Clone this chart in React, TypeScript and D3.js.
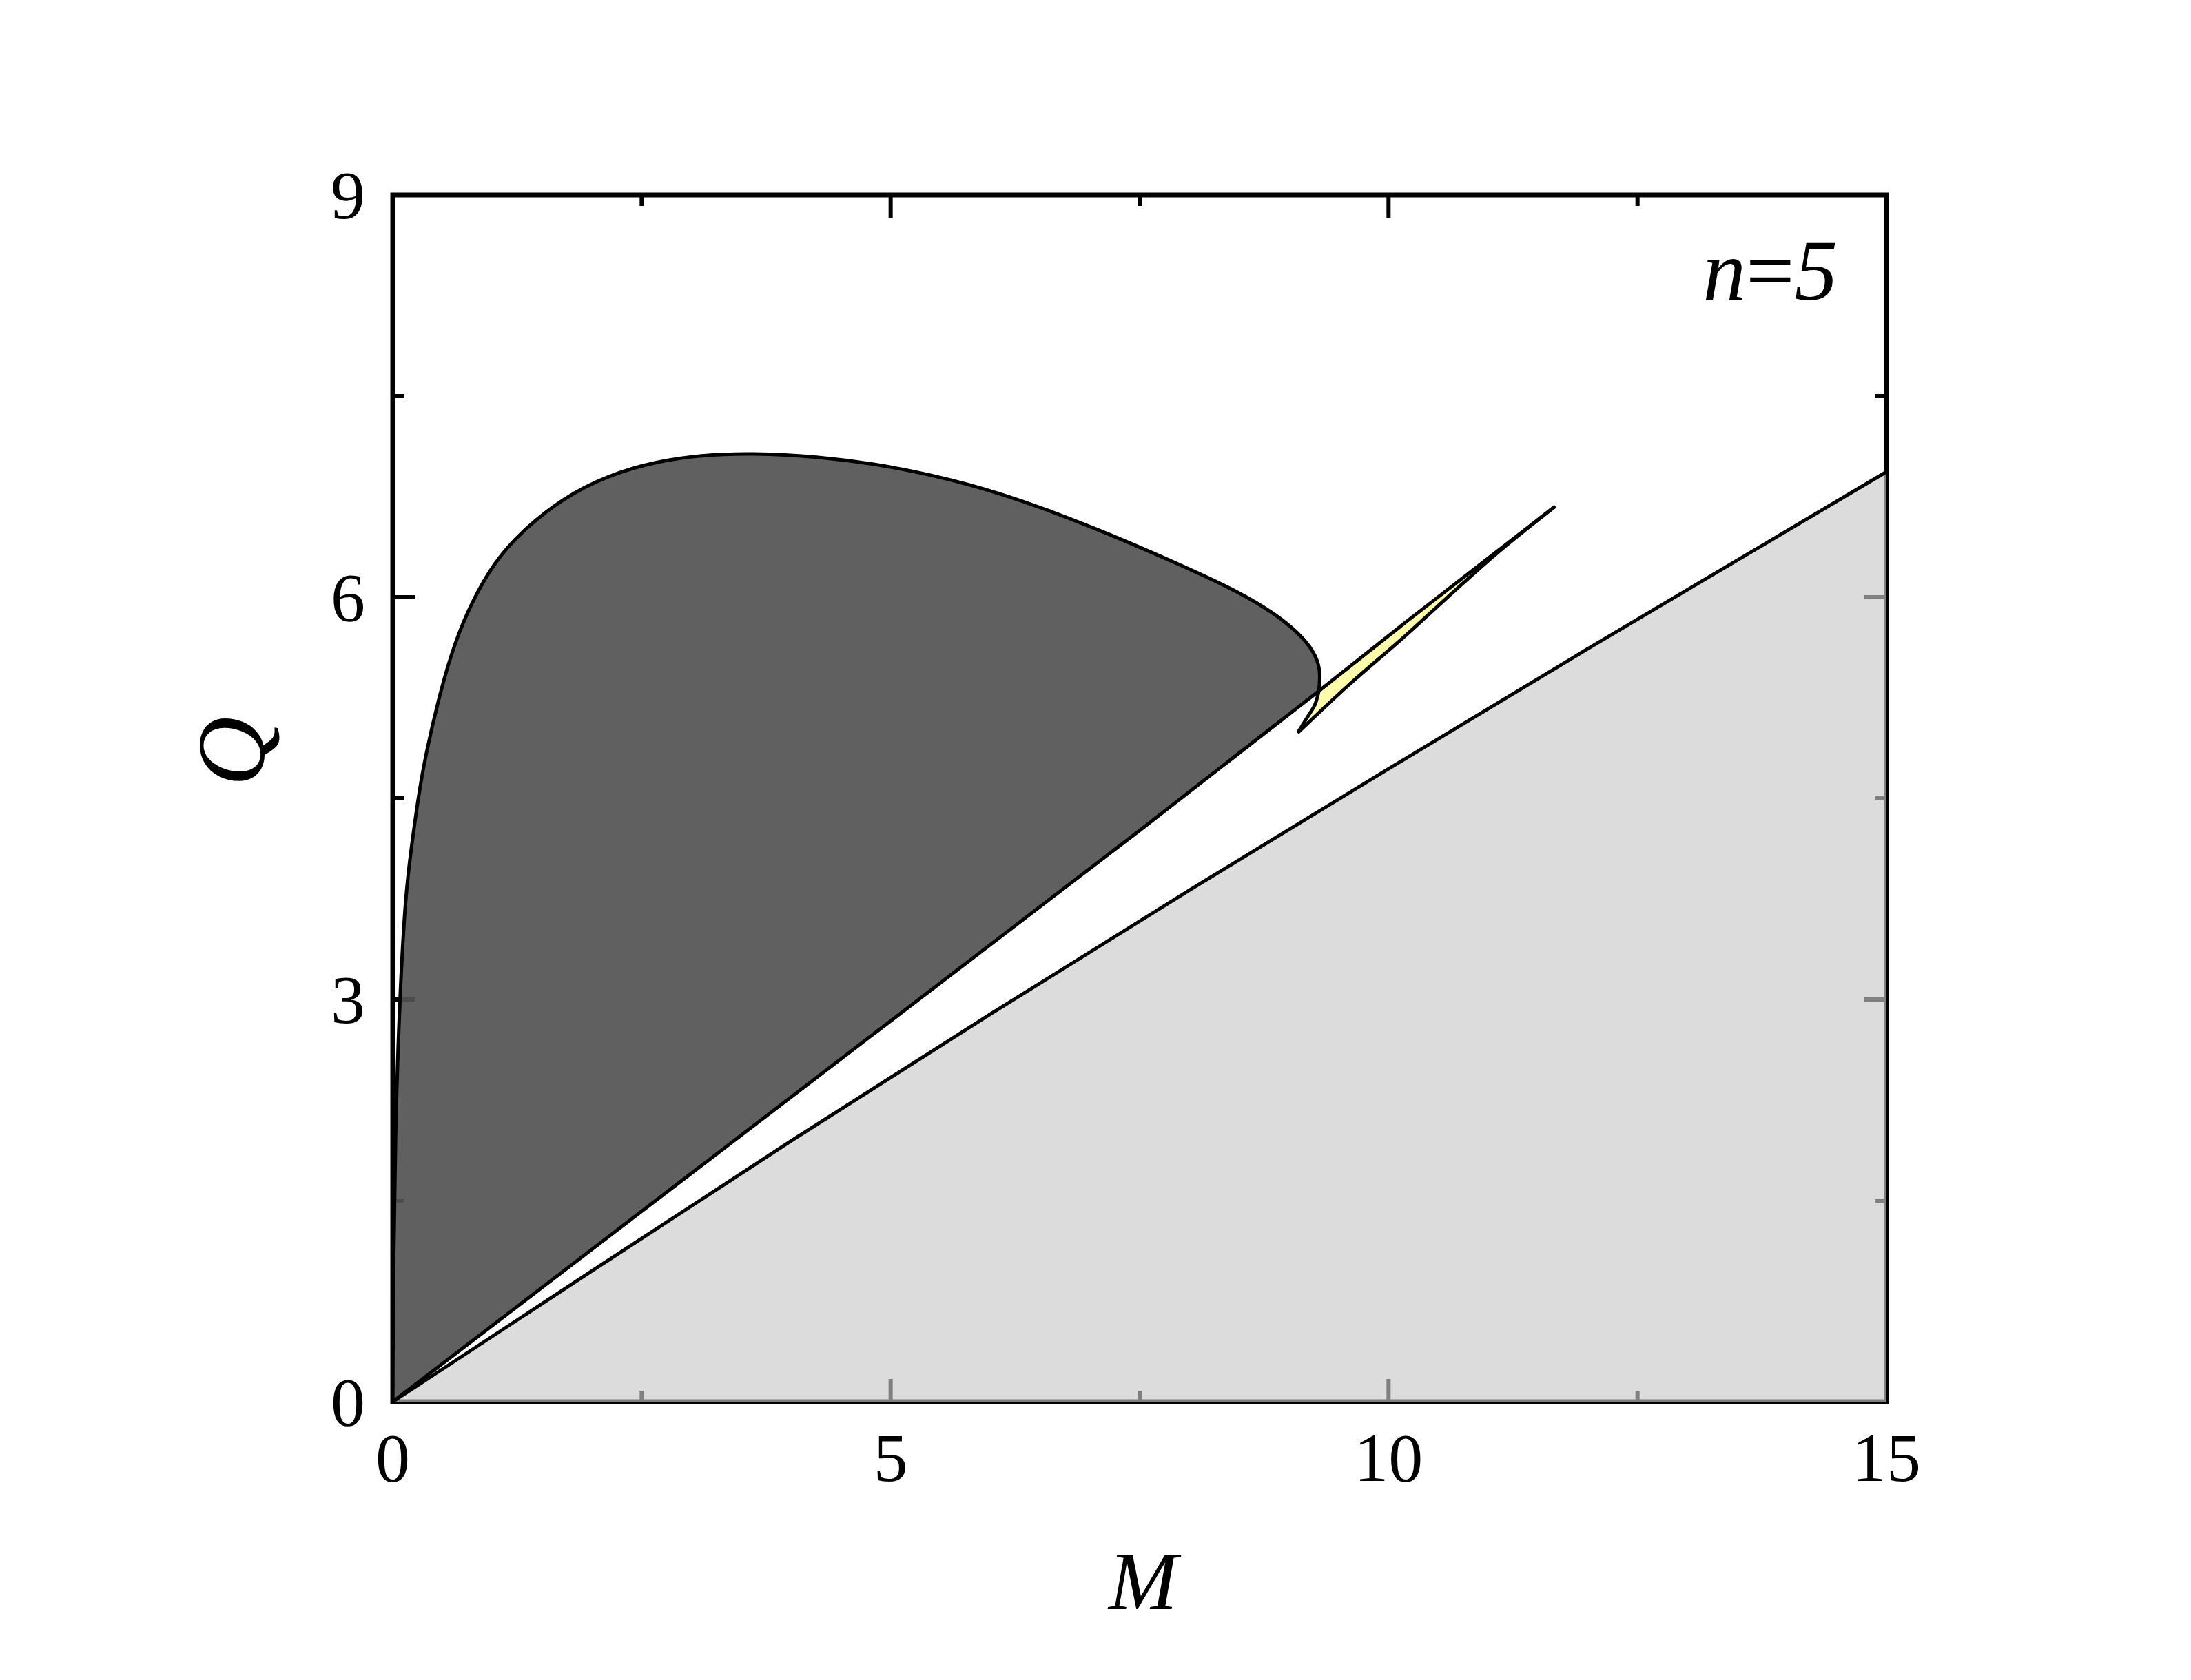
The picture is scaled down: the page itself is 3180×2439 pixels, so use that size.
import React from "react";
import * as d3 from "d3";

// ---------- data (M, Q) ----------
const xMajor = [0, 5, 10, 15];
const xMinor = [2.5, 7.5, 12.5];
const yMajor = [0, 3, 6, 9];
const yMinor = [1.5, 4.5, 7.5];

// lower straight-ish boundary (light gray region below)
const grayLine: [number, number][] = [
  [0, 0], [2, 0.975], [4, 1.945], [6, 2.89], [8, 3.815], [10, 4.72], [12, 5.615], [15, 6.935],
];

// line A: lower boundary of dark region, continuing as upper edge of yellow sliver
const lineA1: [number, number][] = [
  [0, 0], [2.5, 1.42], [5, 2.84], [7.5, 4.26], [9.3, 5.3],
];
const lineA2: [number, number][] = [
  [9.3, 5.3], [10.2, 5.83], [11.0, 6.29], [11.674, 6.678],
];

// outer boundary of the dark region, from origin to the intersection with line A
const outerB1: [number, number][] = [
  [0, 0], [0.004, 0.5], [0.008, 1.0], [0.025, 2.0], [0.069, 3.0], [0.127, 3.78], [0.19, 4.15],
  [0.255, 4.5], [0.323, 4.803], [0.484, 5.317], [0.623, 5.659], [0.784, 5.95], [1.015, 6.258],
  [1.292, 6.49], [1.707, 6.74], [2.168, 6.91], [2.629, 7.01], [3.1, 7.06], [3.6, 7.075],
  [4.26, 7.05], [5.0, 6.98], [5.8, 6.845], [6.5, 6.675], [7.2, 6.47], [7.9, 6.245],
  [8.51, 6.035], [8.856, 5.878], [9.087, 5.74], [9.249, 5.6], [9.32, 5.46], [9.3, 5.3],
];
// continuation of outer boundary below line A down to the cusp
const outerB2: [number, number][] = [
  [9.3, 5.3], [9.26, 5.197], [9.19, 5.111], [9.133, 5.043], [9.087, 4.988],
];
// lower edge of yellow sliver, from cusp to the far end
const lowerC: [number, number][] = [
  [9.087, 4.988], [9.6, 5.345], [10.15, 5.7], [10.6, 6.005], [11.1, 6.335], [11.674, 6.678],
];

const W = 3180;
const H = 2439;

export default function App() {
  const x = d3.scaleLinear().domain([0, 15]).range([570, 2738]);
  const y = d3.scaleLinear().domain([0, 9]).range([2035, 283]);

  const smooth = d3
    .line<[number, number]>()
    .x((d) => x(d[0]))
    .y((d) => y(d[1]))
    .curve(d3.curveBasis);
  const spline = d3
    .line<[number, number]>()
    .x((d) => x(d[0]))
    .y((d) => y(d[1]))
    .curve(d3.curveCatmullRom.alpha(0.5));
  const straight = d3
    .line<[number, number]>()
    .x((d) => x(d[0]))
    .y((d) => y(d[1]));

  const cont = (p: string | null) => (p ? "L" + p.slice(1) : "");

  const grayFill =
    (straight(grayLine) || "") + cont(straight([[15, 0], [0, 0]])) + "Z";
  const darkFill =
    (smooth(outerB1) || "") + cont(straight([...lineA1].reverse())) + "Z";
  const yellowFill =
    (spline(outerB2) || "") + cont(spline(lowerC)) + cont(spline([...lineA2].reverse())) + "Z";

  const font = "'Times New Roman', 'Liberation Serif', Tinos, Times, serif";
  const axisW = 7;

  return (
    <svg
      width={W}
      height={H}
      style={{ position: "absolute", left: 0, top: 0, background: "#fff" }}
    >
      <rect x={0} y={0} width={W} height={H} fill="#fff" />

      {/* frame */}
      <rect
        x={x(0)}
        y={y(9)}
        width={x(15) - x(0)}
        height={y(0) - y(9)}
        fill="none"
        stroke="#000"
        strokeWidth={axisW}
      />
      {/* ticks (inward, all four sides) */}
      <g stroke="#000" strokeWidth={6}>
        {xMajor.map((t) => (
          <g key={"xM" + t}>
            <line x1={x(t)} x2={x(t)} y1={y(0)} y2={y(0) - 33} />
            <line x1={x(t)} x2={x(t)} y1={y(9)} y2={y(9) + 33} />
          </g>
        ))}
        {xMinor.map((t) => (
          <g key={"xm" + t}>
            <line x1={x(t)} x2={x(t)} y1={y(0)} y2={y(0) - 16} />
            <line x1={x(t)} x2={x(t)} y1={y(9)} y2={y(9) + 16} />
          </g>
        ))}
        {yMajor.map((t) => (
          <g key={"yM" + t}>
            <line x1={x(0)} x2={x(0) + 33} y1={y(t)} y2={y(t)} />
            <line x1={x(15)} x2={x(15) - 33} y1={y(t)} y2={y(t)} />
          </g>
        ))}
        {yMinor.map((t) => (
          <g key={"ym" + t}>
            <line x1={x(0)} x2={x(0) + 16} y1={y(t)} y2={y(t)} />
            <line x1={x(15)} x2={x(15) - 16} y1={y(t)} y2={y(t)} />
          </g>
        ))}
      </g>

      {/* regions */}
      <path d={grayFill} fill="rgb(200,200,200)" fillOpacity={0.64} />
      <path d={darkFill} fill="rgb(82,82,82)" fillOpacity={0.92} />
      <path d={yellowFill} fill="#FFFFAA" />

      {/* boundary curves */}
      <g fill="none" stroke="#000" strokeWidth={5} strokeLinejoin="round">
        <path d={straight(grayLine) || ""} />
        <path d={straight([...lineA1, ...lineA2.slice(1)]) || ""} />
        <path d={smooth(outerB1) || ""} />
        <path d={spline(outerB2) || ""} />
        <path d={spline(lowerC) || ""} />
      </g>

      {/* tick labels */}
      <g fontFamily={font} fontSize={100} fill="#000">
        {xMajor.map((t) => (
          <text key={"xl" + t} x={x(t)} y={2150} textAnchor="middle">
            {t}
          </text>
        ))}
        {yMajor.map((t) => (
          <text key={"yl" + t} x={530} y={y(t) + 34} textAnchor="end">
            {t}
          </text>
        ))}
      </g>

      {/* axis titles */}
      <text
        x={1659}
        y={2336}
        textAnchor="middle"
        fontFamily={font}
        fontStyle="italic"
        fontSize={120}
      >
        M
      </text>
      <text
        transform={`translate(383,1091) rotate(-90)`}
        textAnchor="middle"
        fontFamily={font}
        fontStyle="italic"
        fontSize={140}
      >
        Q
      </text>

      {/* annotation */}
      <text x={2667} y={435} textAnchor="end" fontFamily={font} fontSize={125}>
        <tspan fontStyle="italic">n</tspan>
        <tspan>=</tspan>
        <tspan fontStyle="italic">5</tspan>
      </text>
    </svg>
  );
}
